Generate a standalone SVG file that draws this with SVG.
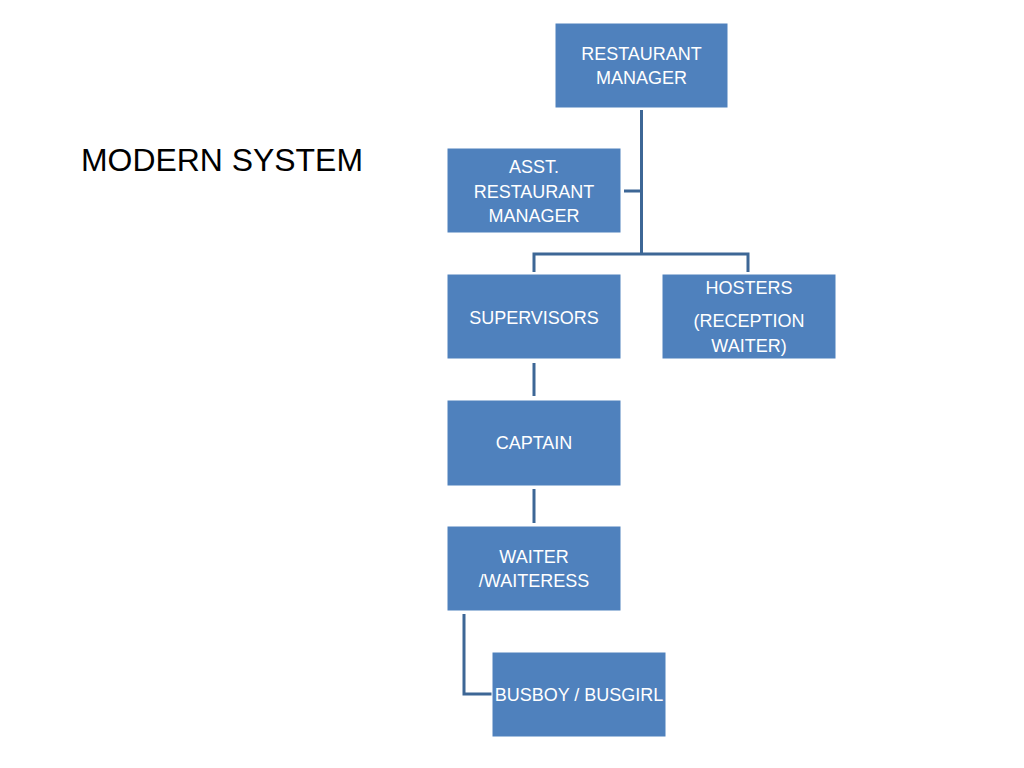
<svg xmlns="http://www.w3.org/2000/svg" width="1024" height="768" viewBox="0 0 1024 768">
<style>
.box{fill:#4f81bd;stroke:#ffffff;stroke-width:1}
.lbl{font-family:"Liberation Sans",Arial,sans-serif;font-size:18px;fill:#ffffff;text-anchor:middle}
.conn{fill:none;stroke:#3d6796;stroke-width:3}
.title{font-family:"Liberation Sans",Arial,sans-serif;font-size:31px;fill:#000000}
</style>
<rect width="1024" height="768" fill="#ffffff"/>
<text class="title" x="81" y="171" textLength="282" lengthAdjust="spacingAndGlyphs">MODERN SYSTEM</text>
<g id="connectors">
<path class="conn" d="M641.5,110 V254 M534,272 V254 H748 V272 M624,191 H641.5"/>
<path class="conn" d="M534,363 V396"/>
<path class="conn" d="M534,489 V523"/>
<path class="conn" d="M464,614 V694 H492"/>
</g>
<g id="restaurant-manager">
<rect class="box" x="555" y="23" width="173" height="85"/>
<text class="lbl" x="641.5" y="60">RESTAURANT</text>
<text class="lbl" x="641.5" y="84">MANAGER</text>
</g>
<g id="asst-manager">
<rect class="box" x="447" y="148" width="174" height="85"/>
<text class="lbl" x="534" y="173">ASST.</text>
<text class="lbl" x="534" y="198">RESTAURANT</text>
<text class="lbl" x="534" y="222">MANAGER</text>
</g>
<g id="supervisors">
<rect class="box" x="447" y="274" width="174" height="85"/>
<text class="lbl" x="534" y="324">SUPERVISORS</text>
</g>
<g id="hosters">
<rect class="box" x="662" y="274" width="174" height="85"/>
<text class="lbl" x="749" y="294">HOSTERS</text>
<text class="lbl" x="749" y="327">(RECEPTION</text>
<text class="lbl" x="749" y="352">WAITER)</text>
</g>
<g id="captain">
<rect class="box" x="447" y="400" width="174" height="86"/>
<text class="lbl" x="534" y="449">CAPTAIN</text>
</g>
<g id="waiter">
<rect class="box" x="447" y="526" width="174" height="85"/>
<text class="lbl" x="534" y="563">WAITER</text>
<text class="lbl" x="534" y="587">/WAITERESS</text>
</g>
<g id="busboy">
<rect class="box" x="492" y="652" width="174" height="85"/>
<text class="lbl" x="579" y="701">BUSBOY / BUSGIRL</text>
</g>
</svg>
